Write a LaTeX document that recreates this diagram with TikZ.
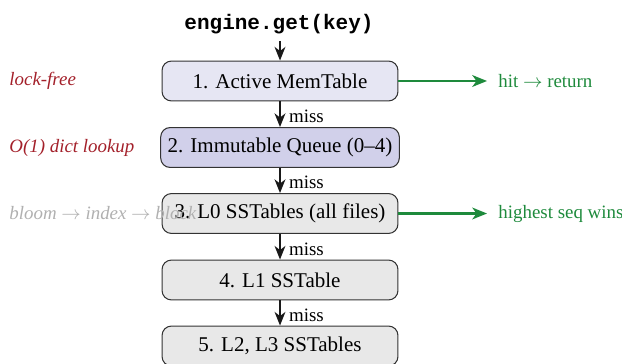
\documentclass[tikz,border=0pt]{standalone}
\usepackage{fontspec}
\setmainfont{Liberation Serif}
\setmonofont{Liberation Mono}
\usetikzlibrary{arrows.meta}

\definecolor{activefill}{HTML}{E6E6F3}
\definecolor{queuefill}{HTML}{D1D0EA}
\definecolor{diskfill}{HTML}{E8E8E8}
\definecolor{boxline}{HTML}{333333}
\definecolor{hitgreen}{HTML}{1E8A3C}
\definecolor{noteRed}{HTML}{A3202A}
\definecolor{noteGray}{HTML}{B0B0B0}

\begin{document}
\begin{tikzpicture}[x=0.476pt,y=-0.476pt,
  stage/.style={draw=boxline, line width=0.5pt, rounded corners=4.5pt,
    minimum width=112.3pt, minimum height=19pt, font=\fontsize{10}{12}\selectfont},
  flow/.style={-{Stealth[length=6.5pt,width=5.2pt,inset=2pt]}, line width=0.7pt, draw=black!90},
  hitflow/.style={-{Stealth[length=7pt,width=5.6pt,inset=2pt]}, line width=1pt, draw=hitgreen},
  misslabel/.style={anchor=west, inner sep=0pt, xshift=4pt, font=\fontsize{9}{11}\selectfont},
  hitlabel/.style={anchor=west, inner sep=0pt, text=hitgreen, font=\fontsize{9}{11}\selectfont},
  sidenote/.style={anchor=west, inner sep=0pt, font=\fontsize{9}{11}\selectfont\itshape}]
\useasboundingbox (0,0) rectangle (622,363);

% request entry point
\node[font=\fontsize{10}{12}\selectfont\ttfamily\bfseries, inner sep=0pt] (req) at (279,24) {engine.get(key)};
\coordinate (reqfoot) at (280,41);

% lookup stages, newest data first
\node[stage, fill=activefill] (s1) at (280,81)    {1. Active MemTable};
\node[stage, fill=queuefill]  (s2) at (280,147.5) {2. Immutable Queue (0--4)};
\node[stage, fill=diskfill]   (s3) at (280,213.5) {3. L0 SSTables (all files)};
\node[stage, fill=diskfill]   (s4) at (280,280)   {4. L1 SSTable};
\node[stage, fill=diskfill]   (s5) at (280,346)   {5. L2, L3 SSTables};

% fall-through on miss
\draw[flow] (reqfoot) -- (s1);
\draw[flow] (s1) -- node[misslabel, yshift=-1pt] {miss} (s2);
\draw[flow] (s2) -- node[misslabel, yshift=-1pt] {miss} (s3);
\draw[flow] (s3) -- node[misslabel, yshift=-1pt] {miss} (s4);
\draw[flow] (s4) -- node[misslabel, yshift=-1pt] {miss} (s5);

% early exits
\coordinate (hit1) at (487,81);
\coordinate (hit3) at (487,213.5);
\draw[hitflow] (s1.east) -- (hit1);
\draw[hitflow] (s3.east) -- (hit3);
\node[hitlabel] (r1) at (498,81)    {hit $\rightarrow$ return};
\node[hitlabel] (r3) at (498,213.5) {highest seq wins};

% per-stage notes
\node[sidenote, text=noteRed]  (n1) at (9,81)    {lock-free};
\node[sidenote, text=noteRed]  (n2) at (9,147.5) {O(1) dict lookup};
\node[sidenote, text=noteGray] (n3) at (9,213.5) {bloom $\rightarrow$ index $\rightarrow$ block};
\end{tikzpicture}
\end{document}
